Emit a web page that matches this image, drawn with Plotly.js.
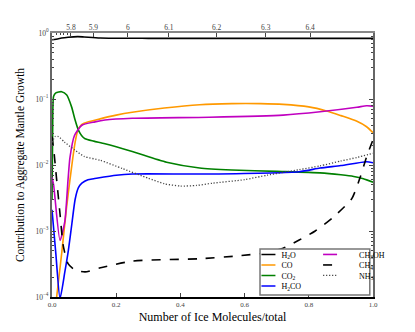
<!DOCTYPE html>
<html>
<head>
<meta charset="utf-8">
<script src="https://cdn.plot.ly/plotly-3.0.1.min.js"></script>
<style>
  body { margin: 0; background: #fff; }
  #chart { width: 415px; height: 332px; }
</style>
</head>
<body>
<div id="chart"></div>
<script>
// fraction of ice molecules vs contribution to mantle growth, one pair of arrays per species
const h2o_x = [0, 0.02, 0.05, 0.08, 0.1, 0.15, 0.3, 0.5, 0.7, 0.9, 1.0];
const h2o_y = [0.79, 0.82, 0.86, 0.88, 0.87, 0.84, 0.83, 0.83, 0.83, 0.83, 0.83];

const co_x = [0.0145, 0.03, 0.045, 0.056, 0.065, 0.072, 0.08, 0.09, 0.1, 0.15, 0.2, 0.25, 0.35, 0.46, 0.56, 0.65, 0.72, 0.8, 0.855, 0.9, 0.95, 0.98, 1.0];
const co_y = [1e-4, 4.5e-4, 0.0022, 0.006, 0.013, 0.022, 0.033, 0.04, 0.043, 0.05, 0.057, 0.063, 0.073, 0.082, 0.085, 0.085, 0.083, 0.076, 0.066, 0.056, 0.046, 0.038, 0.031];

const co2_x = [0, 0.002, 0.005, 0.012, 0.03, 0.046, 0.061, 0.072, 0.082, 0.092, 0.103, 0.13, 0.165, 0.25, 0.357, 0.46, 0.56, 0.7, 0.835, 0.9, 0.94, 0.97, 1.0];
const co2_y = [0.003, 0.03, 0.11, 0.124, 0.129, 0.115, 0.076, 0.048, 0.034, 0.028, 0.025, 0.023, 0.021, 0.016, 0.011, 0.009, 0.0084, 0.008, 0.0076, 0.0071, 0.0067, 0.0062, 0.0055];

const h2co_x = [0, 0.012, 0.025, 0.04, 0.051, 0.062, 0.072, 0.082, 0.093, 0.112, 0.13, 0.2, 0.25, 0.49, 0.77, 0.835, 0.9, 0.98, 1.0];
const h2co_y = [0.0021, 4.5e-4, 0.95e-4, 2.4e-4, 5.1e-4, 0.0013, 0.003, 0.0045, 0.0053, 0.006, 0.0062, 0.007, 0.0073, 0.0073, 0.0079, 0.009, 0.0098, 0.0112, 0.0108];

const ch3oh_x = [0, 0.005, 0.025, 0.04, 0.05, 0.056, 0.07, 0.093, 0.134, 0.165, 0.25, 0.49, 0.72, 0.835, 0.95, 0.98, 1.0];
const ch3oh_y = [0.0065, 0.005, 0.00072, 0.0014, 0.006, 0.013, 0.028, 0.04, 0.045, 0.048, 0.051, 0.053, 0.057, 0.064, 0.075, 0.079, 0.078];

const ch4_x = [0, 0.006, 0.012, 0.025, 0.035, 0.05, 0.07, 0.103, 0.155, 0.25, 0.46, 0.58, 0.67, 0.72, 0.77, 0.82, 0.875, 0.934, 0.96, 0.98, 1.0];
const ch4_y = [0.027, 0.016, 0.008, 0.0018, 0.0006, 0.00032, 0.00026, 0.00024, 0.00028, 0.00035, 0.00038, 0.00042, 0.00047, 0.00055, 0.00073, 0.001, 0.0016, 0.0031, 0.0065, 0.0133, 0.024];

const nh3_x = [0, 0.01, 0.02, 0.04, 0.07, 0.1, 0.15, 0.22, 0.3, 0.35, 0.4, 0.45, 0.5, 0.6, 0.67, 0.77, 0.835, 0.9, 0.95, 1.0];
const nh3_y = [0.022, 0.027, 0.027, 0.022, 0.017, 0.0135, 0.0118, 0.0088, 0.0063, 0.0052, 0.0048, 0.0049, 0.0053, 0.006, 0.007, 0.0085, 0.0097, 0.0115, 0.013, 0.015];

// axis labels
const y_tickvals = [1e-4, 1e-3, 1e-2, 1e-1, 1];
const y_ticktext = ["10<sup>\u22124</sup>", "10<sup>\u22123</sup>", "10<sup>\u22122</sup>", "10<sup>\u22121</sup>", "10<sup>0</sup>"];
const top_tickvals = [0.059, 0.129, 0.236, 0.364, 0.513, 0.666, 0.804];
const top_ticktext = ["5.8", "5.9", "6", "6.1", "6.2", "6.3", "6.4"];
const top_minor = [0.015, 0.025, 0.036, 0.047];

const serif = "Liberation Serif, Times New Roman, serif";

const minor_y = [];
for (let d = -4; d < 0; d++) {
    for (let k = 2; k <= 9; k++) minor_y.push(k * Math.pow(10, d));
}

const line_trace = (name, x, y, color, dash, width, legend) => ({
    name: name,
    x: x,
    y: y,
    type: "scatter",
    mode: "lines",
    line: {color: color, dash: dash, width: width, shape: "spline", smoothing: 0.6},
    legend: legend,
});

const data = [
    line_trace("H<sub>2</sub>O", h2o_x, h2o_y, "black", "solid", 1.6, "legend"),
    line_trace("CO", co_x, co_y, "#ff9900", "solid", 1.6, "legend"),
    line_trace("CO<sub>2</sub>", co2_x, co2_y, "#008000", "solid", 1.6, "legend"),
    line_trace("H<sub>2</sub>CO", h2co_x, h2co_y, "#0000ff", "solid", 1.6, "legend"),
    line_trace("CH<sub>3</sub>OH", ch3oh_x, ch3oh_y, "#c000c0", "solid", 1.6, "legend2"),
    line_trace("CH<sub>4</sub>", ch4_x, ch4_y, "black", "dash", 1.6, "legend2"),
    line_trace("NH<sub>3</sub>", nh3_x, nh3_y, "#444", "1.2px,1.8px", 1.3, "legend2"),
    // empty trace so the top axis gets drawn
    {x: [], y: [], type: "scatter", mode: "lines", xaxis: "x2", showlegend: false, hoverinfo: "skip"},
];

const legend_common = {
    bgcolor: "rgba(0,0,0,0)",
    borderwidth: 0,
    font: {family: serif, size: 8, color: "black"},
    xanchor: "left",
    yanchor: "top",
    tracegroupgap: 0,
};

const layout = {
    width: 415,
    height: 332,
    margin: {l: 52, r: 42, t: 33, b: 35, autoexpand: false},
    paper_bgcolor: "white",
    plot_bgcolor: "white",
    font: {family: serif, color: "black"},
    showlegend: true,
    legend: Object.assign({x: 0.64, y: 0.182}, legend_common),
    legend2: Object.assign({x: 0.832, y: 0.182}, legend_common),
    xaxis: {
        range: [0, 1],
        dtick: 0.2,
        tickformat: ".1f",
        ticks: "inside",
        ticklen: 4,
        tickcolor: "#444",
        showgrid: false,
        zeroline: false,
        showline: true,
        linecolor: "black",
        linewidth: 1.5,
        tickfont: {family: serif, size: 7, color: "#444"},
        title: {text: "Number of Ice Molecules/total", font: {family: serif, size: 12}, standoff: 4},
    },
    xaxis2: {
        overlaying: "x",
        side: "top",
        anchor: "y",
        range: [0, 1],
        tickmode: "array",
        tickvals: top_tickvals,
        ticktext: top_ticktext,
        ticks: "inside",
        ticklen: 4,
        tickcolor: "#444",
        minor: {tickvals: top_minor, ticks: "inside", ticklen: 2, tickcolor: "#444"},
        ticklabelstandoff: -2,
        showgrid: false,
        zeroline: false,
        showline: true,
        linecolor: "#888",
        linewidth: 2,
        tickfont: {family: serif, size: 7.5, color: "#444"},
    },
    yaxis: {
        type: "log",
        range: [-4, 0],
        tickmode: "array",
        tickvals: y_tickvals,
        ticktext: y_ticktext,
        ticks: "inside",
        ticklen: 4,
        tickcolor: "#444",
        minor: {tickvals: minor_y, ticks: "inside", ticklen: 2, tickcolor: "#444"},
        showgrid: false,
        zeroline: false,
        showline: true,
        linecolor: "#666",
        linewidth: 2,
        mirror: "ticks",
        tickfont: {family: serif, size: 7.5, color: "#444"},
        title: {text: "Contribution to Aggregate Mantle Growth", font: {family: serif, size: 11.5}, standoff: 8},
    },
    shapes: [{
        type: "rect",
        xref: "paper",
        yref: "paper",
        x0: 0.648, x1: 0.99, y0: 0.008, y1: 0.182,
        fillcolor: "white",
        line: {color: "#777", width: 1.5},
        layer: "above",
    }],
};

// plotly keeps legend rows at least 19px apart; squeeze them to the reference's tighter rows
const tighten_legends = gd => {
    gd.querySelectorAll("g.legend, g.legend2").forEach(lg => {
        lg.querySelectorAll("g.traces").forEach((tr, i) => {
            tr.setAttribute("transform", `translate(0, ${5.5 + i * 10.5})`);
            tr.querySelectorAll("g.legendlines path").forEach(p => p.setAttribute("d", "M4,0h14"));
            const txt = tr.querySelector("text.legendtext");
            if (txt) txt.setAttribute("x", 24);
        });
    });
};

Plotly.newPlot("chart", data, layout, {displayModeBar: false, staticPlot: true}).then(tighten_legends);
</script>
</body>
</html>
